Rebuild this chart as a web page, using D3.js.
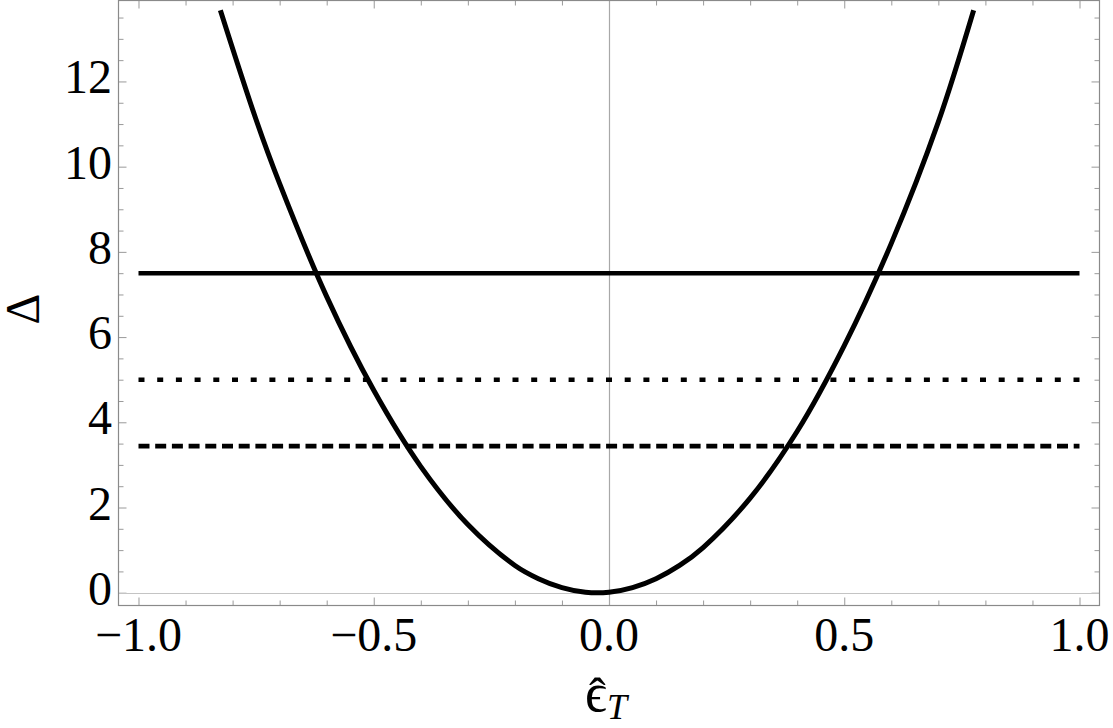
<!DOCTYPE html>
<html>
<head>
<meta charset="utf-8">
<script src="https://cdn.jsdelivr.net/npm/d3@7"></script>
<style>
  body { margin: 0; background: #fff; }
  text { font-family: "Liberation Serif", "DejaVu Serif", serif; }
</style>
</head>
<body>
<script>
// curve
const epsValues = [-0.826, -0.75, -0.7, -0.6, -0.5, -0.4, -0.3, -0.2, -0.15, -0.1, -0.05, 0.0, 0.05, 0.1, 0.15, 0.2, 0.3, 0.4, 0.5, 0.6, 0.7, 0.775];
const deltaValues = [13.67, 11.1, 9.6, 6.95, 4.75, 2.96, 1.6, 0.64, 0.33, 0.12, 0.01, 0.01, 0.12, 0.33, 0.64, 1.06, 2.22, 3.79, 5.8, 8.2, 11.05, 13.67];

// horizontal levels
const levelValues = [7.5, 5, 3.44];
const levelStyles = ["solid", "dotted", "dashed"];

const xTickLabels = [-1.0, -0.5, 0.0, 0.5, 1.0];
const yTickLabels = [0, 2, 4, 6, 8, 10, 12];

const width = 1113;
const height = 728;
const plotLeft = 118.5, plotRight = 1099.5, plotTop = 0.5, plotBottom = 605.5;

const svg = d3.select("body")
  .append("svg")
  .attr("width", width)
  .attr("height", height);

const x = d3.scaleLinear()
  .domain([-1.0425, 1.0425])
  .range([plotLeft, plotRight]);

const y = d3.scaleLinear()
  .domain([-0.3, 13.9])
  .range([plotBottom, plotTop]);

const frameColor = "#8a8a8a";
const tickColor = "#9a9a9a";

// minor ticks
const xMinor = d3.range(-10, 11).map(function (i) { return i / 10; })
  .filter(function (v) { return Math.abs(v * 2 - Math.round(v * 2)) > 1e-6; });
const yMinor = d3.range(0, 28).map(function (i) { return i / 2; })
  .filter(function (v) { return v % 2 !== 0; });

function ticks(axis, values, size) {
  return axis.tickValues(values).tickSize(size).tickFormat("");
}

// bottom / top
svg.append("g").attr("transform", "translate(0," + plotBottom + ")")
  .call(ticks(d3.axisTop(x), xTickLabels, 8));
svg.append("g").attr("transform", "translate(0," + plotBottom + ")")
  .call(ticks(d3.axisTop(x), xMinor, 5));
svg.append("g").attr("transform", "translate(0," + plotTop + ")")
  .call(ticks(d3.axisBottom(x), xTickLabels, 8));
svg.append("g").attr("transform", "translate(0," + plotTop + ")")
  .call(ticks(d3.axisBottom(x), xMinor, 5));
// left / right
svg.append("g").attr("transform", "translate(" + plotLeft + ",0)")
  .call(ticks(d3.axisRight(y), yTickLabels, 8));
svg.append("g").attr("transform", "translate(" + plotLeft + ",0)")
  .call(ticks(d3.axisRight(y), yMinor, 5));
svg.append("g").attr("transform", "translate(" + plotRight + ",0)")
  .call(ticks(d3.axisLeft(y), yTickLabels, 8));
svg.append("g").attr("transform", "translate(" + plotRight + ",0)")
  .call(ticks(d3.axisLeft(y), yMinor, 5));

svg.selectAll(".domain").remove();
svg.selectAll(".tick line").attr("stroke", tickColor).attr("stroke-width", 1);

// axes through origin
svg.append("line")
  .attr("x1", plotLeft).attr("x2", plotRight)
  .attr("y1", Math.round(y(0)) + 0.5).attr("y2", Math.round(y(0)) + 0.5)
  .attr("stroke", "#c4c4c4").attr("stroke-width", 1.2);
svg.append("line")
  .attr("x1", Math.round(x(0)) + 0.5).attr("x2", Math.round(x(0)) + 0.5)
  .attr("y1", plotTop).attr("y2", plotBottom)
  .attr("stroke", "#a8a8a8").attr("stroke-width", 1.2);

// frame
svg.append("rect")
  .attr("x", plotLeft).attr("y", plotTop)
  .attr("width", plotRight - plotLeft).attr("height", plotBottom - plotTop)
  .attr("fill", "none")
  .attr("stroke", frameColor)
  .attr("stroke-width", 1.2);

// tick labels
svg.append("g").selectAll("text")
  .data(xTickLabels)
  .enter()
  .append("text")
  .attr("x", function (d) { return x(d); })
  .attr("y", 651)
  .attr("text-anchor", "middle")
  .attr("font-size", 48)
  .text(function (d) { return (d < 0 ? "\u2212" : "") + Math.abs(d).toFixed(1); });

svg.append("g").selectAll("text")
  .data(yTickLabels)
  .enter()
  .append("text")
  .attr("x", 112)
  .attr("y", function (d) { return y(d) + 12; })
  .attr("text-anchor", "end")
  .attr("font-size", 48)
  .text(function (d) { return d; });

// levels
const dashes = { solid: null, dotted: "6,12.7", dashed: "11,5.7" };

svg.append("clipPath").attr("id", "clip")
  .append("rect")
  .attr("x", plotLeft).attr("y", plotTop)
  .attr("width", plotRight - plotLeft).attr("height", plotBottom - plotTop);

const plot = svg.append("g").attr("clip-path", "url(#clip)");

plot.selectAll(".level")
  .data(levelValues)
  .enter()
  .append("line")
  .attr("class", "level")
  .attr("x1", x(-1)).attr("x2", x(1))
  .attr("y1", function (d) { return y(d); })
  .attr("y2", function (d) { return y(d); })
  .attr("stroke", "#000")
  .attr("stroke-width", 4.6)
  .attr("stroke-dasharray", function (d, i) { return dashes[levelStyles[i]]; });

const curveData = epsValues.map(function (e, i) { return [e, deltaValues[i]]; });

const line = d3.line()
  .x(function (d) { return x(d[0]); })
  .y(function (d) { return y(d[1]); })
  .curve(d3.curveCatmullRom.alpha(0.5));

plot.append("path")
  .datum(curveData)
  .attr("d", line)
  .attr("fill", "none")
  .attr("stroke", "#000")
  .attr("stroke-width", 5);

// axis titles: epsilon hat, subscript T
const xt = svg.append("text")
  .attr("font-size", 54);
xt.append("tspan")
  .attr("x", 585).attr("y", 711)
  .text("\u03F5");
xt.append("tspan")
  .attr("x", 589).attr("y", 713)
  .attr("font-size", 50)
  .text("\u02C6");
xt.append("tspan")
  .attr("x", 607).attr("y", 719)
  .attr("font-style", "italic")
  .attr("font-size", 36)
  .text("T");

svg.append("text")
  .attr("transform", "translate(39,309) rotate(-90)")
  .attr("text-anchor", "middle")
  .attr("font-size", 48)
  .text("\u0394");
</script>
</body>
</html>
